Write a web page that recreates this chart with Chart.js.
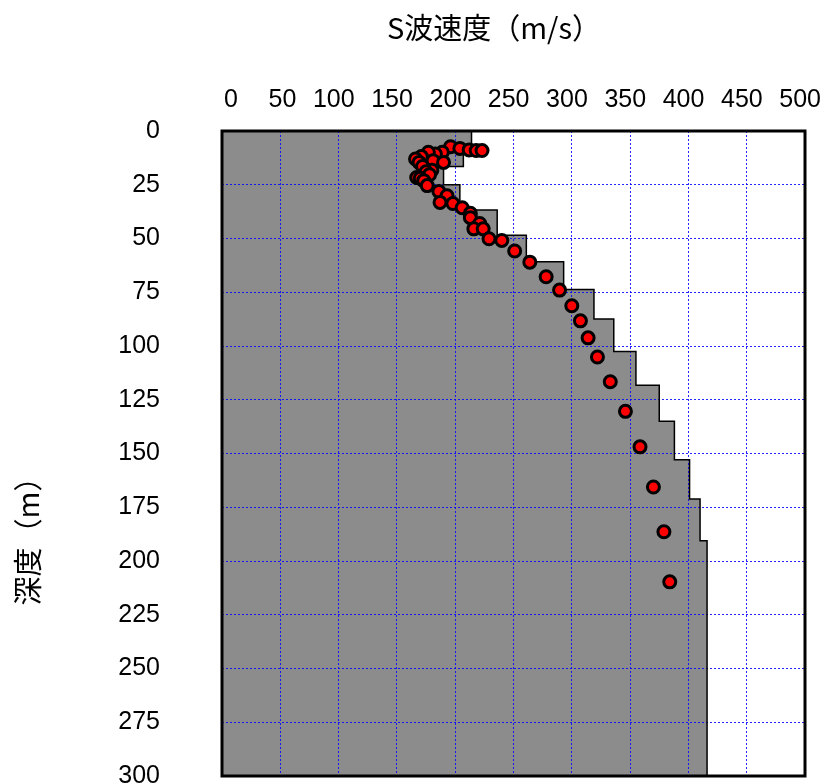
<!DOCTYPE html>
<html>
<head>
<meta charset="utf-8">
<title>S波速度</title>
<script src="https://cdn.jsdelivr.net/npm/chart.js@4.4.0/dist/chart.umd.min.js"></script>
<style>
  html, body { margin: 0; padding: 0; background: #fff; }
</style>
</head>
<body>
<canvas id="chart" width="826" height="784"></canvas>
<script>
// Axis ticks
const xTicks = [0, 50, 100, 150, 200, 250, 300, 350, 400, 450, 500];
const yTicks = [0, 25, 50, 75, 100, 125, 150, 175, 200, 225, 250, 275, 300];

// Layered model (gray staircase): top / bottom depth of each layer and its Vs
const layerTop    = [0,   7,   16.5, 25,  36.8, 48.5, 60.8, 73.7, 87.4, 102.5, 118.3, 135, 152.9, 171.2, 190.6];
const layerBottom = [7,   16.5, 25,  36.8, 48.5, 60.8, 73.7, 87.4, 102.5, 118.3, 135, 152.9, 171.2, 190.6, 300];
const layerVs     = [214, 207, 190,  204,  236,  261,  293,  319,  336,  355,   375,  388,  401,   410,   416];

// Measured points (red)
const obsVs    = [196, 204, 212, 218, 223, 189, 183, 177, 171, 166, 169, 181, 190, 172, 180, 175, 178, 167, 170, 173, 176,
                  186, 193, 187, 198, 206, 213, 213, 221, 216, 224, 229, 240, 251, 264, 278, 289.5, 300, 307.4, 314, 322,
                  333, 346, 358.5, 370, 379, 384];
const obsDepth = [7.3, 8.1, 8.8, 9.1, 9.1, 9.9, 10.7, 9.9, 11.9, 13, 14.6, 13.8, 14.6, 16.5, 18.2, 19, 20.3, 21.6, 22, 23.1, 25.4,
                  28.1, 30.1, 33.2, 33.7, 35.7, 38.3, 40.3, 43, 45.5, 45.5, 50.1, 50.9, 55.8, 61, 67.8, 74, 81.3, 88.3, 96.2, 105.1,
                  116.6, 130.4, 146.9, 165.6, 186.4, 209.7];

const xTitle = "S波速度（m/s）";
const yTitle = "深度（m）";

const tickFont  = { family: "'Liberation Sans', sans-serif", size: 25 };
const titleFont = "29px 'Noto Sans CJK JP', sans-serif";

// staircase outline built from the layers
const stepPoints = [];
layerVs.forEach(function (v, i) {
  stepPoints.push({ x: v, y: layerTop[i] });
  stepPoints.push({ x: v, y: layerBottom[i] });
});

const obsPoints = obsVs.map(function (v, i) { return { x: v, y: obsDepth[i] }; });

// gray fill, drawn before the grid so the grid shows on top of it
const areaFill = {
  id: "areaFill",
  beforeDraw: function (chart) {
    const xs = chart.scales.x, ys = chart.scales.y, ctx = chart.ctx;
    ctx.save();
    ctx.beginPath();
    ctx.moveTo(xs.getPixelForValue(0), ys.getPixelForValue(0));
    stepPoints.forEach(function (p) {
      ctx.lineTo(xs.getPixelForValue(p.x), ys.getPixelForValue(p.y));
    });
    ctx.lineTo(xs.getPixelForValue(0), ys.getPixelForValue(300));
    ctx.closePath();
    ctx.fillStyle = "#8c8c8c";
    ctx.fill();
    ctx.restore();
  }
};

// frame + axis titles
const frameAndTitles = {
  id: "frameAndTitles",
  afterDraw: function (chart) {
    const a = chart.chartArea, ctx = chart.ctx;
    ctx.save();
    ctx.strokeStyle = "#000";
    ctx.lineWidth = 3;
    ctx.strokeRect(a.left, a.top, a.right - a.left, a.bottom - a.top);

    ctx.fillStyle = "#000";
    ctx.font = titleFont;
    ctx.textAlign = "center";
    ctx.textBaseline = "middle";
    ctx.fillText(xTitle, 494, 28);

    ctx.translate(28, 534);
    ctx.rotate(-Math.PI / 2);
    ctx.fillText(yTitle, 0, 0);
    ctx.restore();
  }
};

const gridOpts = { color: "rgba(0,0,255,0.85)", lineWidth: 1, drawTicks: false };

new Chart(document.getElementById("chart"), {
  type: "scatter",
  data: {
    datasets: [
      {
        label: "測定値",
        data: obsPoints,
        backgroundColor: "#ff0000",
        borderColor: "#000",
        borderWidth: 3,
        pointRadius: 6
      },
      {
        label: "モデル",
        data: stepPoints,
        showLine: true,
        borderColor: "#000",
        borderWidth: 1.5,
        pointRadius: 0,
        fill: false
      }
    ]
  },
  plugins: [areaFill, frameAndTitles],
  options: {
    responsive: false,
    animation: false,
    layout: { autoPadding: false, padding: { left: 0, top: 0, right: 21, bottom: 8 } },
    plugins: { legend: { display: false }, tooltip: { enabled: false } },
    scales: {
      x: {
        type: "linear",
        position: "top",
        min: 0,
        max: 500,
        afterBuildTicks: function (s) { s.ticks = xTicks.map(function (v) { return { value: v }; }); },
        afterFit: function (s) { s.height = 131; s.paddingLeft = 0; s.paddingRight = 0; },
        grid: gridOpts,
        border: { display: false, dash: [2, 2] },
        ticks: { font: tickFont, color: "#000", align: "end", labelOffset: 16, padding: 16, maxRotation: 0 }
      },
      y: {
        type: "linear",
        reverse: true,
        min: 0,
        max: 300,
        afterBuildTicks: function (s) { s.ticks = yTicks.map(function (v) { return { value: v }; }); },
        // tick padding would otherwise be added to the top/bottom layout padding
        afterFit: function (s) { s.width = 222; s.paddingTop = 0; s.paddingBottom = 0; },
        grid: gridOpts,
        border: { display: false, dash: [2, 2] },
        ticks: { font: tickFont, color: "#000", padding: 62 }
      }
    }
  }
});
</script>
</body>
</html>
